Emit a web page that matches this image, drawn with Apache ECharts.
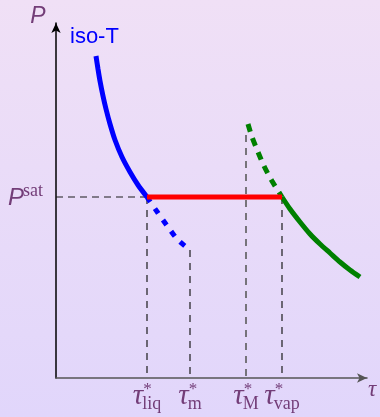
<!DOCTYPE html>
<html><head><meta charset="utf-8">
<script src="https://cdn.jsdelivr.net/npm/echarts@6/dist/echarts.min.js"></script>
<style>html,body{margin:0;padding:0;background:#e8dbf8;} #c{width:380px;height:417px;}</style>
</head><body><div id="c"></div>
<script>
// Isotherm (specific volume tau, pressure P), arbitrary units
const liquidStable = [[40,322],[42,309],[44,297],[47,282],[50,269],[54,254],[59,238],[66,221],[74,206],[82,193],[91,181]];
const liquidMetastable = [[91,181],[102,165],[112,151],[122,138],[134,128]];
const vaporMetastable = [[192,254],[196,241],[202,226],[208,212],[216,197],[226,181]];
const vaporStable = [[226,181],[234,169],[244,156],[254,144],[264,134],[274,125],[284,116],[294,108],[304,101]];
const pSat = 181;
const tickValues = [91, 134, 190, 226];
const tickSubs = ['liq', 'm', 'M', 'vap'];
const tickTops = [181, 128, 243, 181];
const xMax = 311, yMax = 355;

const purple = '#733d78';
const series = [];
function line(data, color, width, type, smooth, z) {
  series.push({type:'line', data:data, symbol:'none', smooth:smooth||0, silent:true, z:z||2,
    lineStyle:{color:color, width:width, type:type||'solid', cap:'butt'}});
}
// helper dashed lines
line([[0,pSat],[tickValues[0],pSat]], '#1a1a1a', 1.2, [7,5], 0, 1);
tickValues.forEach((v,i)=>{
  line([[v,tickTops[i]],[v,0]], i===2 ? '#5a5a5a' : '#1a1a1a', i===2 ? 1.6 : 1.2, [7,6], 0, 1);
});
line(liquidStable, '#0000ff', 5, 'solid', 0.25, 3);
line(liquidMetastable, '#0000ff', 5, [6,8], 0.3, 3);
line(vaporMetastable, '#008000', 5, [8,7], 0.3, 3);
line(vaporStable, '#008000', 5, 'solid', 0.25, 3);
line([[tickValues[0],pSat],[tickValues[3],pSat]], '#ff0000', 5, 'solid', 0, 4);

const chart = echarts.init(document.getElementById('c'), null, {renderer:'canvas'});
const option = {
  animation:false,
  backgroundColor:{type:'linear', x:0, y:0, x2:0, y2:1,
    colorStops:[{offset:0,color:'#f0e0f6'},{offset:1,color:'#e1d6fb'}]},
  grid:{left:56, right:13, top:23, bottom:39, containLabel:false},
  xAxis:{type:'value', min:0, max:xMax, axisTick:{show:false}, axisLabel:{show:false}, splitLine:{show:false},
    axisLine:{show:true, symbol:['none','arrow'], symbolSize:[7,10], lineStyle:{color:'#555', width:1.5}}},
  yAxis:{type:'value', min:0, max:yMax, axisTick:{show:false}, axisLabel:{show:false}, splitLine:{show:false},
    axisLine:{show:true, symbol:['none','arrow'], symbolSize:[7,10], lineStyle:{color:'#000', width:1.5}}},
  series:series
};
chart.setOption(option);

const ctx = document.createElement('canvas').getContext('2d');
function tw(font, s){ ctx.font = font; return ctx.measureText(s).width; }
const tauFont = 'italic 29px "Liberation Serif"';
const subFont = '18px "Liberation Serif"';
const starFont = '17px "Liberation Serif"';
const g = [];
tickValues.forEach((v,i)=>{
  const px = chart.convertToPixel({xAxisIndex:0}, v);
  const wT = tw(tauFont, 'τ') - 1, wS = tw(subFont, tickSubs[i]);
  const left = px - (wT + wS)/2;
  g.push({type:'text', x:left, y:396, style:{text:'τ', font:tauFont, fill:purple, align:'left', verticalAlign:'middle'}});
  g.push({type:'text', x:left+wT, y:404, style:{text:tickSubs[i], font:subFont, fill:purple, align:'left', verticalAlign:'middle'}});
  g.push({type:'text', x:left+wT+1, y:390, style:{text:'*', font:starFont, fill:purple, align:'left', verticalAlign:'middle'}});
});
g.push({type:'text', x:372, y:390, style:{text:'τ', font:'italic 23px "Liberation Serif"', fill:purple, align:'center', verticalAlign:'middle'}});
g.push({type:'text', x:38, y:17, style:{text:'P', font:'italic 23px "Liberation Sans"', fill:purple, align:'center', verticalAlign:'middle'}});
g.push({type:'text', x:8, y:198, style:{text:'P', font:'italic 24px "Liberation Sans"', fill:purple, align:'left', verticalAlign:'middle'}});
g.push({type:'text', x:23, y:191, style:{text:'sat', font:'18px "Liberation Serif"', fill:purple, align:'left', verticalAlign:'middle'}});
g.push({type:'text', x:70, y:37, style:{text:'iso-T', font:'22px "Liberation Sans"', fill:'#0000ff', align:'left', verticalAlign:'middle'}});
chart.setOption({graphic:g});
</script>
</body></html>
